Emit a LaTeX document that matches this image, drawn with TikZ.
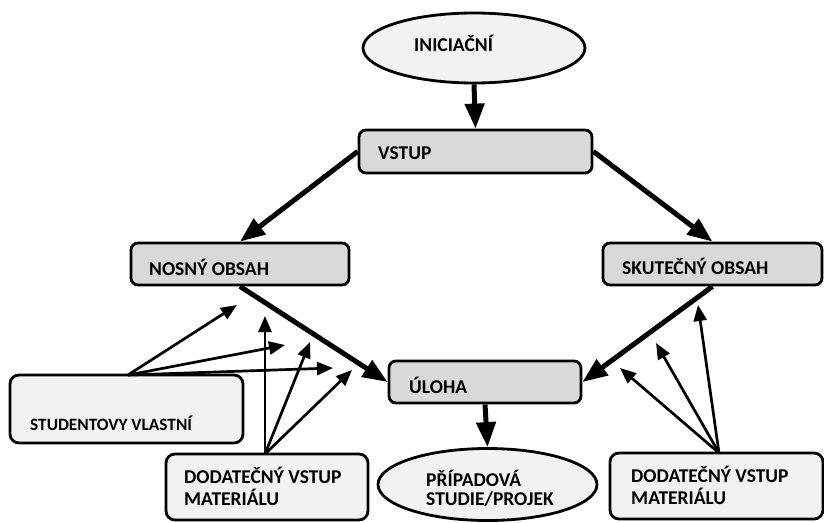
\documentclass[tikz,border=0pt]{standalone}
\usepackage{fontspec}
\setmainfont{Carlito}
\usetikzlibrary{arrows.meta,shapes.geometric}
\definecolor{boxdark}{HTML}{D9D9D9}
\definecolor{boxlight}{HTML}{F2F2F2}
\tikzset{
  lbl/.style={font=\fontsize{19.5}{22}\selectfont\bfseries, inner sep=0pt, anchor=west},
  smalllbl/.style={font=\fontsize{17.3}{20}\selectfont\bfseries, inner sep=0pt, anchor=west},
  mainbox/.style={draw=black, line width=2.8pt, rounded corners=7pt, fill=boxdark, inner sep=0pt},
  lightbox/.style={draw=black, line width=2.8pt, rounded corners=9pt, fill=boxlight, inner sep=0pt},
  oval/.style={draw=black, line width=2.8pt, ellipse, fill=boxlight, inner sep=0pt},
  bigarrow/.style={line width=5pt, -{Triangle[length=25pt,width=19pt]}},
  thinarrow/.style={line width=2.7pt, -{Triangle[length=16pt,width=13pt]}},
}
\begin{document}
\begin{tikzpicture}[x=1pt,y=-1pt]
\useasboundingbox (0,0) rectangle (824,522);
% shapes
\node[oval, minimum width=222, minimum height=70] (ini) at (474,48) {};
\node[lbl] (init) at (414,43) {INICIAČNÍ};
\node[mainbox, minimum width=233, minimum height=43] (vstup) at (475.5,151.5) {};
\node[lbl] (vstupt) at (378,153) {VSTUP};
\node[mainbox, minimum width=218, minimum height=42] (nosny) at (240,264) {};
\node[lbl] (nosnyt) at (149,267) {NOSNÝ OBSAH};
\node[mainbox, minimum width=219, minimum height=42] (skut) at (712.5,264) {};
\node[lbl] (skutt) at (622,266) {SKUTEČNÝ OBSAH};
\node[mainbox, minimum width=192, minimum height=42] (uloha) at (485,382) {};
\node[lbl] (ulohat) at (409,385) {ÚLOHA};
\node[oval, minimum width=219, minimum height=72] (pripad) at (487.5,484.5) {};
\node[lbl, align=left, anchor=north west, font=\fontsize{19.5}{19}\selectfont\bfseries] (pripadt) at (426,470) {PŘÍPADOVÁ\\STUDIE/PROJEK};
\node[lightbox, minimum width=233, minimum height=68] (stud) at (126.5,409) {};
\node[smalllbl] (studt) at (30,423) {STUDENTOVY VLASTNÍ};
\node[lightbox, minimum width=202, minimum height=66] (dodl) at (267,487) {};
\node[lbl, align=left, anchor=north west, font=\fontsize{19.5}{21.5}\selectfont\bfseries] (dodlt) at (184,467) {DODATEČNÝ VSTUP\\MATERIÁLU};
\node[lightbox, minimum width=213, minimum height=66] (dodr) at (716.5,486) {};
\node[lbl, align=left, anchor=north west, font=\fontsize{19.5}{21.5}\selectfont\bfseries] (dodrt) at (631,466) {DODATEČNÝ VSTUP\\MATERIÁLU};
% thick connectors
\draw[bigarrow] (ini.south) -- (vstup.north);
\draw[bigarrow] (vstup.west) -- (nosny.north);
\draw[bigarrow] (vstup.east) -- (skut.north);
\draw[bigarrow] (nosny.south) -- (uloha.west);
\draw[bigarrow] (skut.south) -- (uloha.east);
\draw[bigarrow] (uloha.south) -- (pripad.north);
% thin connectors
\coordinate (s1) at (237,305);
\coordinate (s2) at (285,345);
\coordinate (s3) at (333,368);
\coordinate (l1) at (265,316);
\coordinate (l2) at (310,342);
\coordinate (l3) at (352,370);
\coordinate (r1) at (698,305);
\coordinate (r2) at (656,343);
\coordinate (r3) at (620,368);
\coordinate (studtop) at (128,375);
\coordinate (dodltop) at (265,454);
\coordinate (dodrtop) at (719,453);
\draw[thinarrow] (studtop) -- (s1);
\draw[thinarrow] (studtop) -- (s2);
\draw[thinarrow] (studtop) -- (s3);
\draw[thinarrow] (dodltop) -- (l1);
\draw[thinarrow] (dodltop) -- (l2);
\draw[thinarrow] (dodltop) -- (l3);
\draw[thinarrow] (dodrtop) -- (r1);
\draw[thinarrow] (dodrtop) -- (r2);
\draw[thinarrow] (dodrtop) -- (r3);
\end{tikzpicture}
\end{document}
